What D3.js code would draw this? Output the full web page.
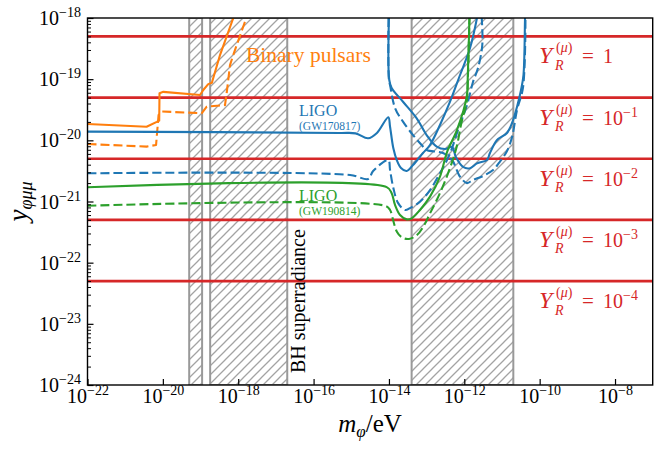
<!DOCTYPE html>
<html>
<head>
<meta charset="utf-8">
<script src="https://cdn.jsdelivr.net/npm/d3@7"></script>
<style>
  body { margin: 0; background: #fff; }
  svg { display: block; font-family: "Liberation Serif", "DejaVu Serif", serif; }
</style>
</head>
<body>
<div id="chart"></div>
<script>
// values, each point is [m_phi in eV, y_phi_mu_mu]
const pulsarSolid = [
  [1e-22, 1.85e-20], [3.7e-21, 1.67e-20], [6.9e-21, 2.0e-20], [8.0e-21, 2.1e-20],
  [8.15e-21, 5.9e-20], [1.03e-20, 6.2e-20], [9.7e-20, 5.5e-20], [1.18e-19, 6.65e-20],
  [1.6e-19, 8.3e-20], [2.0e-19, 8.75e-20], [3.3e-19, 2.5e-19], [7.4e-19, 1e-18],
];
const pulsarDashed = [
  [1e-22, 8.7e-21], [3.7e-21, 7.9e-21], [6.6e-21, 8.4e-21], [7.7e-21, 2.6e-20],
  [9.5e-21, 2.96e-20], [1.07e-19, 2.77e-20], [1.46e-19, 3.55e-20], [4.46e-19, 3.78e-20],
  [4.94e-19, 5.94e-20], [6.05e-19, 1.7e-19], [7.4e-19, 2.5e-19], [1.5e-18, 8.6e-19],
  [1.8e-18, 1.1e-18],
];
const gw170817Solid = [
  [1e-22, 1.39e-20], [5.0e-16, 1.32e-20], [1.3e-15, 1.3e-20], [2.8e-15, 1.08e-20],
  [4.8e-15, 1.32e-20], [9.6e-15, 2.38e-20], [1.07e-14, 1.67e-20], [1.31e-14, 7.4e-21],
  [1.61e-14, 4.77e-21], [2.09e-14, 3.53e-21], [2.96e-14, 3.15e-21], [4.36e-14, 3.95e-21],
  [8.0e-14, 6.2e-21], [1.23e-13, 8.4e-21], [2.26e-13, 1.78e-20], [4.18e-13, 4.28e-20],
  [7.7e-13, 1.17e-19], [1.42e-12, 3.23e-19], [2.17e-12, 1e-18],
];
const gw170817SolidU = [
  [1.0e-14, 1e-18], [1.02e-14, 9.7e-20], [1.18e-14, 7.2e-20], [2.36e-14, 4.28e-20],
  [5.46e-14, 2.29e-20], [1.0e-13, 1.22e-20], [1.85e-13, 7.9e-21], [3.08e-13, 7.2e-21],
  [4.72e-13, 7.8e-21], [6.0e-13, 5.3e-21], [9.25e-13, 3.67e-21], [1.42e-12, 3.5e-21],
  [2.17e-12, 4.2e-21], [4.0e-12, 4.77e-21], [4.8e-12, 6.2e-21], [7.4e-12, 1.01e-20],
  [1.36e-11, 1.32e-20], [1.85e-11, 1.92e-20], [2.5e-11, 3.5e-20], [3.2e-11, 6.65e-20],
  [3.72e-11, 1.17e-19], [4.08e-11, 9.3e-19], [4.1e-11, 1e-18],
];
const gw170817Dashed = [
  [1e-22, 2.89e-21], [9.3e-16, 2.71e-21], [2.8e-15, 2.33e-21], [3.8e-15, 3.15e-21],
  [9.6e-15, 4.77e-21], [1.07e-14, 3.27e-21], [1.31e-14, 1.66e-21], [1.74e-14, 9.5e-22],
  [2.67e-14, 7.26e-22], [3.62e-14, 7.8e-22], [6.67e-14, 9.9e-22], [1.23e-13, 1.54e-21],
  [2.26e-13, 2.89e-21], [4.18e-13, 6.1e-21], [6.8e-13, 1.48e-20], [1.18e-12, 3.78e-20],
  [1.7e-12, 9.0e-20], [2.31e-12, 1.52e-19], [3.0e-12, 3.62e-19], [2.9e-12, 1e-18],
];
const gw170817DashedU = [
  [9.75e-15, 1e-18], [1.0e-14, 9.7e-20], [1.07e-14, 8.0e-20], [1.45e-14, 3.38e-20],
  [2.36e-14, 2.02e-20], [4.36e-14, 1.22e-20], [7.4e-14, 8.4e-21], [1.0e-13, 6.95e-21],
  [2.72e-13, 6.2e-21], [4.72e-13, 4.77e-21], [7.7e-13, 2.55e-21], [1.18e-12, 2.0e-21],
  [1.7e-12, 2.25e-21], [3.13e-12, 2.61e-21], [5.8e-12, 3.27e-21], [8.3e-12, 4.27e-21],
  [1.36e-11, 6.7e-21], [1.85e-11, 1.13e-20], [2.5e-11, 3.13e-20], [3.6e-11, 7.2e-20],
  [4.2e-11, 1e-18],
];
const gw190814Solid = [
  [1e-22, 1.71e-21], [8.7e-15, 1.72e-21], [1.18e-14, 1.37e-21], [1.45e-14, 8.77e-22],
  [1.97e-14, 6.0e-22], [2.96e-14, 5.1e-22], [4.0e-14, 5.3e-22], [6.67e-14, 7.26e-22],
  [1.23e-13, 1.2e-21], [2.26e-13, 2.55e-21], [3.48e-13, 6.44e-21], [6.4e-13, 1.48e-20],
  [1.16e-12, 5.17e-20], [1.24e-12, 1.17e-19], [1.37e-12, 1e-18],
];
const gw190814Dashed = [
  [1e-22, 8.53e-22], [7.9e-15, 8.5e-22], [1.07e-14, 7.26e-22], [1.31e-14, 4.8e-22],
  [1.61e-14, 3.24e-22], [2.22e-14, 2.58e-22], [3.41e-14, 2.44e-22], [5.56e-14, 2.83e-22],
  [8.17e-14, 3.87e-22], [1.23e-13, 6.4e-22], [2.26e-13, 1.37e-21], [4.18e-13, 3.53e-21],
  [6.28e-13, 7.87e-21], [8.5e-13, 2.02e-20], [1.16e-12, 4.28e-20], [1.24e-12, 9.7e-20],
  [1.37e-12, 1e-18],
];
// mass windows excluded by BH superradiance
const superradianceBands = [[5.0e-20, 1.1e-19], [1.8e-19, 2.0e-17], [4.0e-14, 2.0e-11]];
// coupling that corresponds to Y_R^(mu) = 10^k
const yukawaLevels = [5e-19, 5e-20, 5e-21, 5e-22, 5e-23];
const yukawaExponents = [0, -1, -2, -3, -4];
const xTicks = [1e-22, 1e-20, 1e-18, 1e-16, 1e-14, 1e-12, 1e-10, 1e-8];
const yTicks = [1e-24, 1e-23, 1e-22, 1e-21, 1e-20, 1e-19, 1e-18];

const colors = { pulsar: "#ff7f0e", ns: "#1f77b4", bh: "#2ca02c", yukawa: "#d62728" };

const width = 665;
const height = 451;
const margin = { top: 18, right: 12.3, bottom: 66, left: 87.5 };

const x = d3.scaleLog().domain([1e-22, 1e-7]).range([margin.left, width - margin.right]);
const y = d3.scaleLog().domain([1e-24, 1e-18]).range([height - margin.bottom, margin.top]);

const svg = d3.select("#chart").append("svg")
  .attr("width", width).attr("height", height)
  .attr("viewBox", [0, 0, width, height]);

const defs = svg.append("defs");
defs.append("clipPath").attr("id", "plot-clip")
  .append("rect")
  .attr("x", margin.left).attr("y", margin.top)
  .attr("width", x.range()[1] - x.range()[0])
  .attr("height", y.range()[0] - y.range()[1]);
defs.append("pattern")
  .attr("id", "hatch").attr("patternUnits", "userSpaceOnUse")
  .attr("width", 9).attr("height", 9)
  .append("path")
  .attr("d", "M-1,1 l2,-2 M0,9 l9,-9 M8,10 l2,-2")
  .attr("stroke", "#a3a3a3").attr("stroke-width", 1.3);

const plot = svg.append("g").attr("clip-path", "url(#plot-clip)");

plot.selectAll("rect.band")
  .data(superradianceBands)
  .join("rect")
  .attr("class", "band")
  .attr("x", (d) => x(d[0]))
  .attr("width", (d) => x(d[1]) - x(d[0]))
  .attr("y", margin.top)
  .attr("height", y.range()[0] - y.range()[1])
  .attr("fill", "url(#hatch)")
  .attr("stroke", "#999")
  .attr("stroke-width", 2);

plot.selectAll("line.yukawa")
  .data(yukawaLevels)
  .join("line")
  .attr("class", "yukawa")
  .attr("x1", x.range()[0]).attr("x2", x.range()[1])
  .attr("y1", (d) => y(d)).attr("y2", (d) => y(d))
  .attr("stroke", colors.yukawa)
  .attr("stroke-width", 2.6);

const sharp = d3.line().x((d) => x(d[0])).y((d) => y(d[1]));
const smooth = d3.line().x((d) => x(d[0])).y((d) => y(d[1])).curve(d3.curveCatmullRom.alpha(0.5));

const curves = [
  { data: pulsarSolid, color: colors.pulsar, dashed: false, line: sharp },
  { data: pulsarDashed, color: colors.pulsar, dashed: true, line: sharp },
  { data: gw170817Dashed, color: colors.ns, dashed: true, line: smooth },
  { data: gw170817DashedU, color: colors.ns, dashed: true, line: smooth },
  { data: gw170817Solid, color: colors.ns, dashed: false, line: smooth },
  { data: gw170817SolidU, color: colors.ns, dashed: false, line: smooth },
  { data: gw190814Dashed, color: colors.bh, dashed: true, line: smooth },
  { data: gw190814Solid, color: colors.bh, dashed: false, line: smooth },
];

plot.selectAll("path.limit")
  .data(curves)
  .join("path")
  .attr("class", "limit")
  .attr("d", (d) => d.line(d.data))
  .attr("fill", "none")
  .attr("stroke", (d) => d.color)
  .attr("stroke-width", 2.1)
  .attr("stroke-linejoin", "round")
  .attr("stroke-dasharray", (d) => (d.dashed ? "9,4" : null));

// frame
svg.append("rect")
  .attr("x", margin.left).attr("y", margin.top)
  .attr("width", x.range()[1] - x.range()[0])
  .attr("height", y.range()[0] - y.range()[1])
  .attr("fill", "none").attr("stroke", "#000").attr("stroke-width", 1.4);

const minus = (k) => (k < 0 ? "\u2212" + -k : String(k));
const addPower = (text, k) => {
  text.append("tspan").text("10");
  text.append("tspan").attr("dy", -8).attr("font-size", 14).text(minus(k));
};

// x axis
const gx = svg.append("g")
  .attr("transform", `translate(0,${y.range()[0]})`)
  .call(d3.axisBottom(x).tickValues(xTicks).tickSizeInner(-6).tickSizeOuter(0).tickFormat(() => ""))
  .attr("font-family", null).attr("font-size", null)
  .call((g) => g.select(".domain").remove())
  .call((g) => g.selectAll(".tick line").attr("stroke-width", 1.2));
gx.selectAll(".tick text").remove();
gx.selectAll(".tick").append("text")
  .attr("fill", "#000").attr("font-size", 20)
  .attr("text-anchor", "middle").attr("y", 18)
  .each(function (d) { addPower(d3.select(this), Math.round(Math.log10(d))); });

// y axis, major + minor
const yMinor = [];
yTicks.slice(0, -1).forEach((t) => { for (let k = 2; k < 10; k++) yMinor.push(t * k); });
svg.append("g")
  .attr("transform", `translate(${margin.left},0)`)
  .call(d3.axisLeft(y).tickValues(yMinor).tickSizeInner(-3.5).tickSizeOuter(0).tickFormat(() => ""))
  .call((g) => g.select(".domain").remove())
  .call((g) => g.selectAll(".tick text").remove())
  .call((g) => g.selectAll(".tick line").attr("stroke-width", 1));
const gy = svg.append("g")
  .attr("transform", `translate(${margin.left},0)`)
  .call(d3.axisLeft(y).tickValues(yTicks).tickSizeInner(-6).tickSizeOuter(0).tickFormat(() => ""))
  .attr("font-family", null).attr("font-size", null)
  .call((g) => g.select(".domain").remove())
  .call((g) => g.selectAll(".tick line").attr("stroke-width", 1.2));
gy.selectAll(".tick text").remove();
gy.selectAll(".tick").append("text")
  .attr("fill", "#000").attr("font-size", 20)
  .attr("text-anchor", "end").attr("x", -6.5).attr("y", 6.5)
  .each(function (d) { addPower(d3.select(this), Math.round(Math.log10(d))); });

// axis titles
svg.append("text")
  .attr("x", (x.range()[0] + x.range()[1]) / 2).attr("y", 432)
  .attr("text-anchor", "middle").attr("font-size", 25)
  .call((t) => {
    t.append("tspan").attr("font-style", "italic").text("m");
    t.append("tspan").attr("font-style", "italic").attr("font-size", 17).attr("dy", 5).text("\u03c6");
    t.append("tspan").attr("dy", -5).text("/eV");
  });
svg.append("text")
  .attr("transform", `translate(27,${(y.range()[0] + y.range()[1]) / 2}) rotate(-90)`)
  .attr("text-anchor", "middle").attr("font-size", 27)
  .call((t) => {
    t.append("tspan").attr("font-style", "italic").text("y");
    t.append("tspan").attr("font-style", "italic").attr("font-size", 18).attr("dy", 5).text("\u03c6\u03bc\u03bc");
  });

// annotations
svg.append("text")
  .attr("x", 246).attr("y", 61.5)
  .attr("font-size", 21.5).attr("fill", colors.pulsar)
  .text("Binary pulsars");
svg.append("text")
  .attr("transform", "translate(305,373) rotate(-90)")
  .attr("font-size", 20).attr("fill", "#000")
  .text("BH superradiance");

const ligoLabel = (top, sub, color, base) => {
  svg.append("text").attr("x", 299).attr("y", base)
    .attr("font-size", 16).attr("fill", color).text(top);
  svg.append("text").attr("x", 299).attr("y", base + 13.5)
    .attr("font-size", 11.5).attr("fill", color).text(sub);
};
ligoLabel("LIGO", "(GW170817)", colors.ns, 116);
ligoLabel("LIGO", "(GW190814)", colors.bh, 201);

yukawaLevels.forEach((level, i) => {
  const g = svg.append("g")
    .attr("transform", `translate(539,${y(level) + 27})`)
    .attr("fill", colors.yukawa);
  g.append("text").attr("font-size", 24).attr("font-style", "italic").text("Y");
  g.append("text").attr("x", 17).attr("y", -11).attr("font-size", 14)
    .call((t) => {
      t.append("tspan").text("(");
      t.append("tspan").attr("font-style", "italic").text("\u03bc");
      t.append("tspan").text(")");
    });
  g.append("text").attr("x", 16).attr("y", 6.5).attr("font-size", 14)
    .attr("font-style", "italic").text("R");
  g.append("text").attr("x", 43).attr("font-size", 21).text("=");
  const v = g.append("text").attr("x", 64).attr("font-size", 20);
  if (yukawaExponents[i] === 0) v.text("1");
  else addPower(v, yukawaExponents[i]);
});
</script>
</body>
</html>
